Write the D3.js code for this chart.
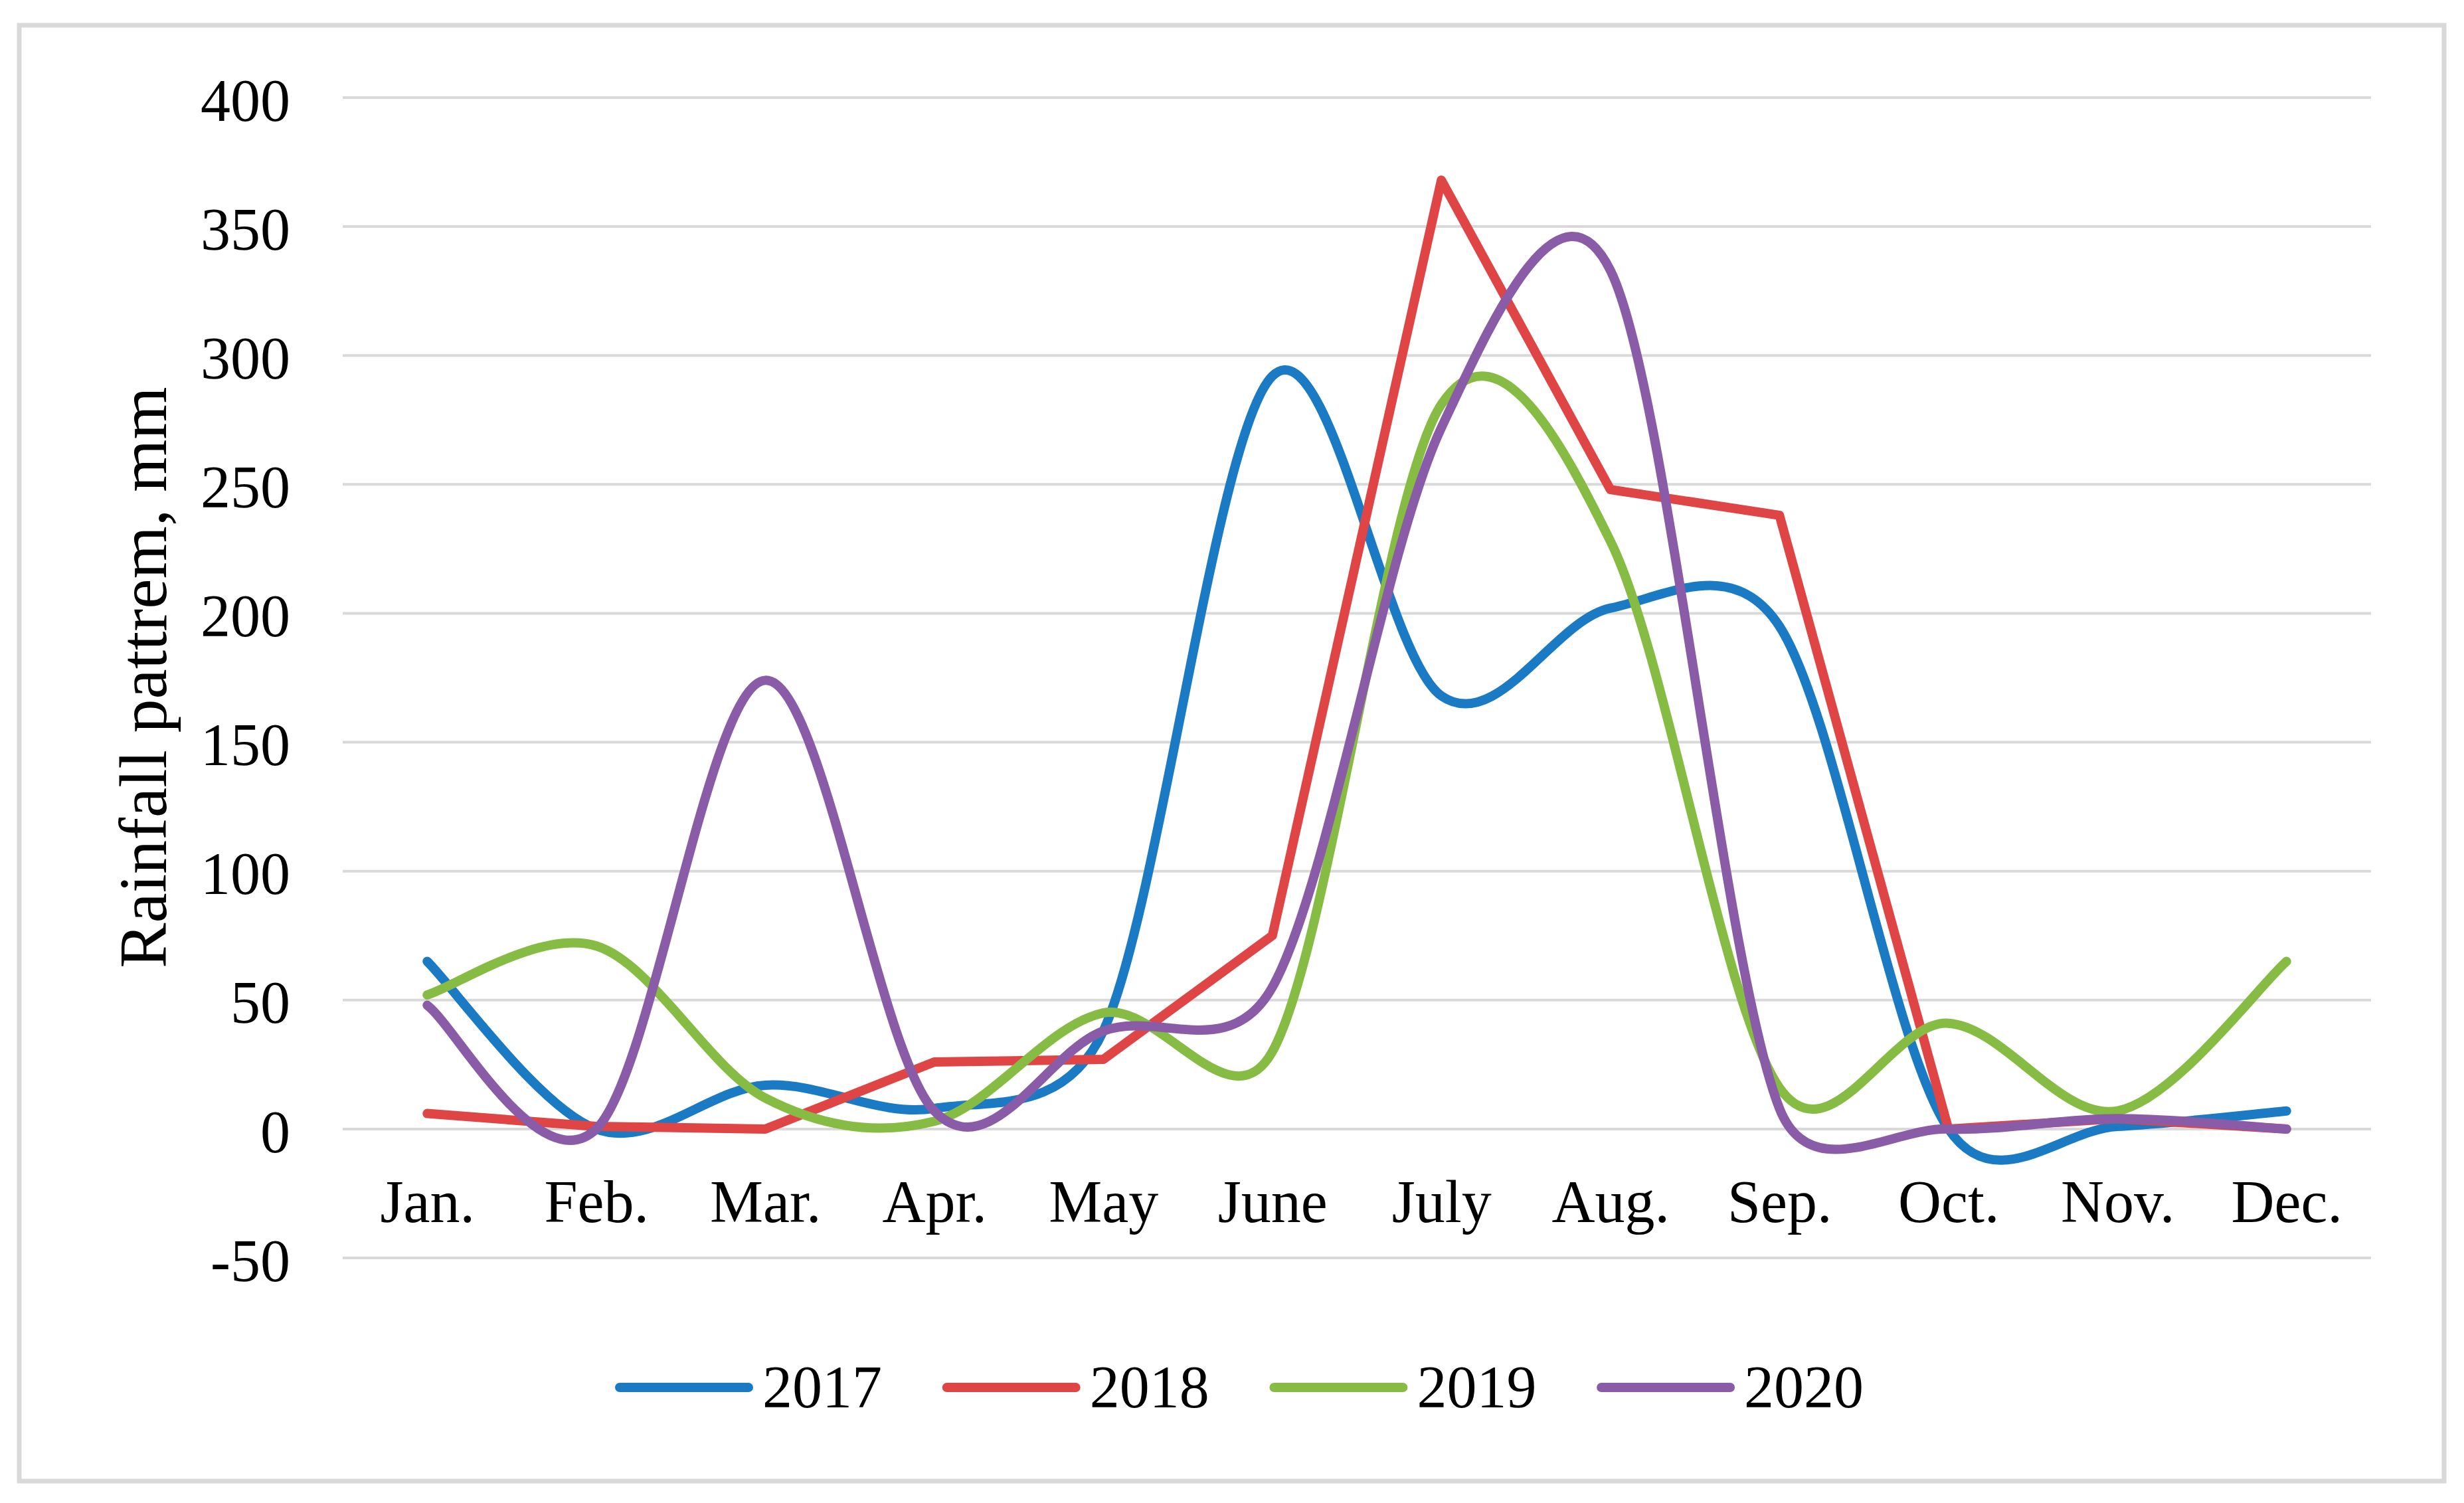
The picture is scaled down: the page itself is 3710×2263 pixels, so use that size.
<!DOCTYPE html>
<html>
<head>
<meta charset="utf-8">
<script src="https://cdn.jsdelivr.net/npm/d3@7/dist/d3.min.js"></script>
<style>
  html, body { margin: 0; padding: 0; background: #ffffff; }
  svg { display: block; }
</style>
</head>
<body>
<script>
// ---- Data ----
const months = ["Jan.", "Feb.", "Mar.", "Apr.", "May", "June", "July", "Aug.", "Sep.", "Oct.", "Nov.", "Dec."];
const years = ["2017", "2018", "2019", "2020"];
const rain2017 = [65, 0, 17, 8, 38, 292, 168, 202, 195, 0, 1, 7];
const rain2018 = [6, 1, 0, 26, 27, 75, 368, 248, 238, 0, 4, 0];
const rain2019 = [52, 71, 12, 3, 45, 30, 281, 228, 16, 41, 7, 65];
const rain2020 = [48, 0, 174, 7, 38, 55, 272, 333, 8, 0, 4, 0];
const yTicks = [-50, 0, 50, 100, 150, 200, 250, 300, 350, 400];
const yTickLabels = ["-50", "0", "50", "100", "150", "200", "250", "300", "350", "400"];
const smoothed = [true, false, true, true];
const colors = ["#1a7ac4", "#e04545", "#86bc43", "#8a5ca8"];
const yTitle = "Rainfall pattrem, mm";

const seriesValues = [rain2017, rain2018, rain2019, rain2020];

// ---- Layout ----
const W = 3710, H = 2263;
const plot = { left: 516, right: 3570, top: 147, bottom: 1894 };
const font = "'Liberation Serif', 'Times New Roman', Times, serif";

const svg = d3.select("body").append("svg")
  .attr("width", W).attr("height", H)
  .attr("viewBox", `0 0 ${W} ${H}`);

svg.append("rect").attr("x", 0).attr("y", 0).attr("width", W).attr("height", H).attr("fill", "#ffffff");

// outer frame
svg.append("rect")
  .attr("x", 29).attr("y", 38).attr("width", 3651).attr("height", 2192)
  .attr("fill", "none").attr("stroke", "#d9d9d9").attr("stroke-width", 7);

const x = d3.scalePoint().domain(months).range([plot.left, plot.right]).padding(0.5);
const y = d3.scaleLinear().domain([-50, 400]).range([plot.bottom, plot.top]);

// gridlines
svg.append("g").selectAll("line").data(yTicks).join("line")
  .attr("x1", plot.left).attr("x2", plot.right)
  .attr("y1", d => y(d)).attr("y2", d => y(d))
  .attr("stroke", "#d9d9d9").attr("stroke-width", 4);

// y axis labels (axis without domain/ticks lines)
const yAxis = d3.axisLeft(y).tickValues(yTicks).tickSize(0).tickPadding(0)
  .tickFormat((d, i) => yTickLabels[i]);
const gy = svg.append("g").attr("transform", `translate(437,0)`).call(yAxis);
gy.select(".domain").remove();
gy.selectAll("text")
  .attr("font-family", font).attr("font-size", 90).attr("fill", "#000")
  .attr("dy", "0.38em").attr("x", 0);

// x axis labels
const xAxis = d3.axisBottom(x).tickSize(0).tickPadding(0);
const gx = svg.append("g").attr("transform", `translate(0,1840)`).call(xAxis);
gx.select(".domain").remove();
gx.selectAll("text")
  .attr("font-family", font).attr("font-size", 90).attr("fill", "#000")
  .attr("dy", "0").attr("y", 0);

// y title
svg.append("text")
  .attr("transform", `translate(250,1020) rotate(-90)`)
  .attr("text-anchor", "middle")
  .attr("font-family", font).attr("font-size", 102).attr("fill", "#000")
  .text(yTitle);

// Excel-like smoothing curve: Bezier control points at 1/6 of neighbour vector,
// limited to half the segment length.
function ExcelSmooth(context) { this._context = context; }
ExcelSmooth.prototype = {
  areaStart() { this._line = 0; },
  areaEnd() { this._line = NaN; },
  lineStart() { this._pts = []; },
  point(px, py) { this._pts.push([+px, +py]); },
  lineEnd() {
    const p = this._pts, n = p.length, c = this._context;
    if (!n) return;
    c.moveTo(p[0][0], p[0][1]);
    for (let i = 0; i < n - 1; i++) {
      const p0 = p[i - 1] || p[i], p1 = p[i], p2 = p[i + 1], p3 = p[i + 2] || p[i + 1];
      const seg = Math.hypot(p2[0] - p1[0], p2[1] - p1[1]);
      const cap = seg / 2;
      let v1x = (p2[0] - p0[0]) / 6, v1y = (p2[1] - p0[1]) / 6;
      let v2x = (p3[0] - p1[0]) / 6, v2y = (p3[1] - p1[1]) / 6;
      const l1 = Math.hypot(v1x, v1y), l2 = Math.hypot(v2x, v2y);
      if (l1 > cap && l1 > 0) { v1x *= cap / l1; v1y *= cap / l1; }
      if (l2 > cap && l2 > 0) { v2x *= cap / l2; v2y *= cap / l2; }
      c.bezierCurveTo(p1[0] + v1x, p1[1] + v1y, p2[0] - v2x, p2[1] - v2y, p2[0], p2[1]);
    }
  }
};
const curveExcel = ctx => new ExcelSmooth(ctx);

// series lines
const gl = svg.append("g");
seriesValues.forEach((vals, si) => {
  const line = d3.line()
    .x((d, i) => x(months[i]))
    .y(d => y(d))
    .curve(smoothed[si] ? curveExcel : d3.curveLinear);
  gl.append("path")
    .datum(vals)
    .attr("d", line)
    .attr("fill", "none")
    .attr("stroke", colors[si])
    .attr("stroke-width", 14)
    .attr("stroke-linecap", "round")
    .attr("stroke-linejoin", "round");
});

// legend
const legendStart = 926, legendStep = 492.7, legendY = 2089;
const lg = svg.append("g");
years.forEach((yr, i) => {
  const x0 = legendStart + i * legendStep;
  lg.append("line")
    .attr("x1", x0 + 7).attr("x2", x0 + 201)
    .attr("y1", legendY).attr("y2", legendY)
    .attr("stroke", colors[i]).attr("stroke-width", 14).attr("stroke-linecap", "round");
  lg.append("text")
    .attr("x", x0 + 222).attr("y", 2119)
    .attr("font-family", font).attr("font-size", 90).attr("fill", "#000")
    .text(yr);
});
</script>
</body>
</html>
